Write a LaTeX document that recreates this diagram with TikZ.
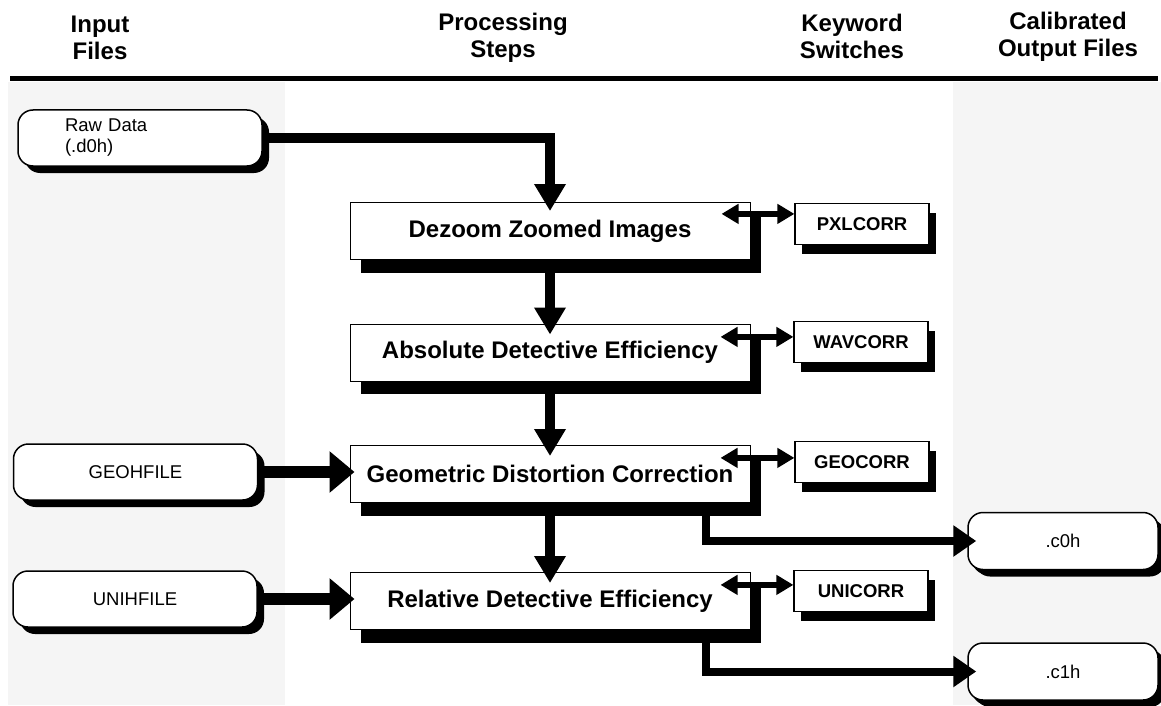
\documentclass[tikz,border=0pt]{standalone}
\usepackage{fontspec}
\setmainfont{Liberation Sans}
\usepackage{xcolor}
\usetikzlibrary{arrows.meta,shadows,calc}

\definecolor{panelgray}{RGB}{245,245,245}

\tikzset{
  header/.style={align=center, font=\fontsize{24}{27}\selectfont\bfseries},
  procbox/.style={draw, line width=1pt, fill=white, minimum width=400pt,
    minimum height=57pt, inner sep=0pt, font=\fontsize{24}{28}\selectfont\bfseries,
    general shadow={fill=black, shadow xshift=11pt, shadow yshift=-13pt}},
  keybox/.style={draw, line width=1.2pt, fill=white, minimum width=134pt,
    minimum height=41pt, inner sep=0pt, font=\fontsize{18.5}{22}\selectfont\bfseries,
    general shadow={fill=black, shadow xshift=7pt, shadow yshift=-9pt}},
  filebox/.style={draw, line width=1.5pt, rounded corners=15pt, fill=white,
    minimum width=244pt, minimum height=56pt, inner sep=0pt,
    font=\fontsize{18.5}{21}\selectfont,
    general shadow={fill=black, shadow xshift=7pt, shadow yshift=-7pt}},
  outbox/.style={filebox, minimum width=190pt, minimum height=57pt,
    general shadow={fill=black, shadow xshift=4pt, shadow yshift=-5pt}},
  mainflow/.style={line width=10pt, -{Triangle[length=27pt,width=30pt]}},
  sideflow/.style={line width=12pt, -{Triangle[length=25pt,width=40pt]}},
  outflow/.style={line width=8pt, -{Triangle[length=23pt,width=30pt]}},
  switchflow/.style={line width=6pt,
    {Triangle[length=17pt,width=19pt]}-{Triangle[length=17pt,width=19pt]}}
}

\begin{document}
\begin{tikzpicture}[x=1pt,y=-1pt]
  \useasboundingbox (0,0) rectangle (1161,706);

  % Columns
  \fill[panelgray] (8,82) rectangle (285,705);
  \fill[panelgray] (953,82) rectangle (1161,705);
  \draw[line width=5pt] (10,78.5) -- (1158,78.5);

  \node[header] (hin)  at (100,38)  {Input\\Files};
  \node[header] (hpro) at (503,38)  {Processing\\Steps};
  \node[header] (hkey) at (852,36)  {Keyword\\Switches};
  \node[header] (hout) at (1068,37) {Calibrated\\Output Files};

  % Input files
  \node[filebox, align=left, text width=150pt] (raw) at (140,138) {Raw Data\\(.d0h)};
  \node[filebox] (geoh) at (135.5,472) {GEOHFILE};
  \node[filebox] (unih) at (135,599) {UNIHFILE};

  % Processing steps
  \node[procbox] (dezoom) at (550,231)   {Dezoom Zoomed Images};
  \node[procbox] (abs)    at (550,352.5) {Absolute Detective Efficiency};
  \node[procbox] (geo)    at (550,474)   {Geometric Distortion Correction};
  \node[procbox] (rel)    at (550,601)   {Relative Detective Efficiency};

  % Keyword switches
  \node[keybox] (pxl) at (862,224) {PXLCORR};
  \node[keybox] (wav) at (861,342) {WAVCORR};
  \node[keybox] (gco) at (862,462) {GEOCORR};
  \node[keybox] (uni) at (861,591) {UNICORR};

  % Output files
  \node[outbox] (czero) at (1063,541)   {.c0h};
  \node[outbox] (cone)  at (1063,671.5) {.c1h};

  % Main flow
  \draw[mainflow, shorten >=-9pt] (raw.east) -| (dezoom.north);
  \draw[mainflow, shorten >=-11pt] (dezoom.south) -- (abs.north);
  \draw[mainflow, shorten >=-11pt] (abs.south) -- (geo.north);
  \draw[mainflow, shorten >=-11pt] (geo.south) -- (rel.north);

  \draw[sideflow, shorten >=-5pt] (geoh.east) -- (geoh.east -| geo.west);
  \draw[sideflow, shorten >=-5pt] (unih.east) -- (unih.east -| rel.west);

  \draw[outflow, shorten >=-9pt] ([xshift=156pt]geo.south) |- (czero.west);
  \draw[outflow, shorten >=-9pt] ([xshift=156pt]rel.south) |- (cone.west);

  % Switches
  \draw[switchflow] ($(dezoom.east |- pxl.north)+(-29pt,-11pt)$) -- ([yshift=-11pt]pxl.north west);
  \draw[switchflow] ($(abs.east |- wav.north)+(-30pt,-16pt)$) -- ([yshift=-16pt]wav.north west);
  \draw[switchflow] ($(geo.east |- gco.north)+(-30pt,-17pt)$) -- ([yshift=-17pt]gco.north west);
  \draw[switchflow] ($(rel.east |- uni.north)+(-30pt,-15pt)$) -- ([yshift=-15pt]uni.north west);
\end{tikzpicture}
\end{document}
